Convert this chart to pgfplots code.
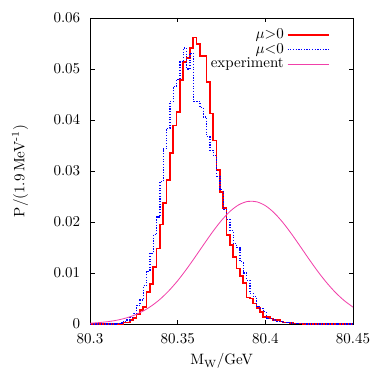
\documentclass[border=0pt]{standalone}
\usepackage{pgfplots}
\pgfplotsset{compat=1.18}
\usepackage{pgfplotstable}

\pgfplotstableread{
x r b
80.3000 0 0
80.3019 0 0
80.3038 0 0
80.3057 0 0
80.3076 0 0
80.3095 0 0
80.3114 0 0
80.3133 0 0
80.3152 0 0.0001
80.3171 0 0.0002
80.3190 0.0003 0.0005
80.3209 0.0003 0.0008
80.3228 0.0008 0.0013
80.3247 0.0012 0.0021
80.3266 0.0020 0.0037
80.3285 0.0027 0.0047
80.3304 0.0034 0.0075
80.3323 0.0063 0.0103
80.3342 0.0078 0.0139
80.3361 0.0112 0.0175
80.3380 0.0148 0.0210
80.3399 0.0195 0.0279
80.3418 0.0237 0.0344
80.3437 0.0282 0.0384
80.3456 0.0335 0.0436
80.3475 0.0389 0.0465
80.3494 0.0416 0.0480
80.3513 0.0478 0.0514
80.3532 0.0514 0.0541
80.3551 0.0521 0.0500
80.3570 0.0541 0.0531
80.3589 0.0562 0.0436
80.3608 0.0549 0.0436
80.3627 0.0526 0.0424
80.3646 0.0526 0.0406
80.3665 0.0475 0.0367
80.3684 0.0413 0.0341
80.3703 0.0360 0.0330
80.3722 0.0302 0.0290
80.3741 0.0259 0.0263
80.3760 0.0227 0.0225
80.3779 0.0174 0.0205
80.3798 0.0155 0.0183
80.3817 0.0132 0.0158
80.3836 0.0109 0.0150
80.3855 0.0094 0.0122
80.3874 0.0080 0.0100
80.3893 0.0052 0.0086
80.3912 0.0050 0.0060
80.3931 0.0040 0.0054
80.3950 0.0031 0.0034
80.3969 0.0024 0.0031
80.3988 0.0014 0.0024
80.4007 0.0014 0.0011
80.4026 0.0011 0.0011
80.4045 0.0008 0.0008
80.4064 0.0008 0.0005
80.4083 0.0005 0.0005
80.4102 0.0003 0.0003
80.4121 0.0003 0.0003
80.4140 0.0002 0.0002
80.4159 0.0001 0.0001
80.4178 0.0001 0.0001
80.4197 0.0001 0.0001
80.4216 0 0.0001
80.4235 0 0
80.4254 0 0
80.4273 0 0
80.4292 0 0
80.4311 0 0
80.4330 0 0
80.4349 0 0
80.4368 0 0
80.4387 0 0
80.4406 0 0
80.4425 0 0
80.4444 0 0
80.4463 0 0
80.4482 0 0
80.4501 0 0
}\hist

\pgfplotstableread{
x p
80.300 0.00016
80.305 0.00028
80.310 0.00046
80.315 0.00073
80.320 0.00113
80.325 0.00170
80.330 0.00249
80.335 0.00354
80.340 0.00488
80.345 0.00654
80.350 0.00850
80.355 0.01074
80.360 0.01317
80.365 0.01567
80.370 0.01811
80.375 0.02032
80.380 0.02214
80.385 0.02341
80.390 0.02404
80.395 0.02397
80.400 0.02321
80.405 0.02181
80.410 0.01990
80.415 0.01763
80.420 0.01517
80.425 0.01267
80.430 0.01027
80.435 0.00809
80.440 0.00618
80.445 0.00459
80.450 0.00331
}\expt

\begin{document}
\begin{tikzpicture}
\useasboundingbox (-60pt,-32pt) rectangle (193.3pt,216pt);
\begin{axis}[
  at={(0,0)}, anchor=south west,
  scale only axis,
  width=175.33pt, height=204pt,
  xmin=80.3, xmax=80.45, ymin=0, ymax=0.06,
  scaled x ticks=false, scaled y ticks=false,
  xtick={80.3,80.35,80.4,80.45},
  xticklabels={80.3,80.35,80.4,80.45},
  ytick={0,0.01,0.02,0.03,0.04,0.05,0.06},
  yticklabels={0,0.01,0.02,0.03,0.04,0.05,0.06},
  tick align=inside,
  major tick length=3pt,
  minor tick num=0,
  axis line style={line width=0.6pt},
  every tick/.style={black, line width=0.5pt},
  xticklabel style={yshift=-2.5pt},
  yticklabel style={xshift=-3pt},
  xlabel={M\textsubscript{W}/GeV},
  ylabel={P/(1.9\,MeV\textsuperscript{-1})},
  xlabel style={at={(axis description cs:0.5,-0.121)}, anchor=center},
  ylabel style={at={(axis description cs:-0.266,0.5)}, anchor=center, rotate=0},
  legend image code/.code={\draw[#1] (0pt,0pt) -- (27.6pt,0pt);},
  legend plot pos=right,
  legend cell align=right,
  legend style={draw=none, fill=none, at={(axis description cs:0.93,0.985)}, anchor=north east,
    row sep=-2.5pt, font=\normalsize},
]
\addplot[const plot mark left, red, line width=1.1pt] table[x=x, y=r] {\hist};
\addlegendentry{$\mu$>0}
\addplot[const plot mark left, blue, line width=0.8pt, densely dotted] table[x=x, y=b] {\hist};
\addlegendentry{$\mu$<0}
\addplot[smooth, magenta!75!white, line width=0.55pt] table[x=x, y=p] {\expt};
\addlegendentry{experiment}
\end{axis}
\end{tikzpicture}
\end{document}
